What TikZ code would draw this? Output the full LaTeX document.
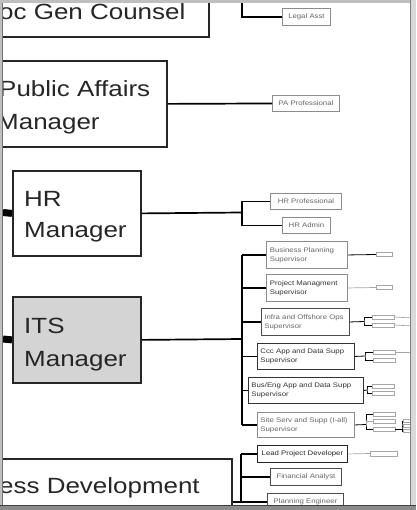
\documentclass[tikz,border=0pt]{standalone}
\usepackage{fontspec}
\setmainfont{Liberation Sans}
\newfontfamily\wf[FakeStretch=1.18]{Liberation Sans}
\begin{document}
\begin{tikzpicture}[x=1pt,y=-1pt,
  bigbox/.style={draw=black!85, line width=1.8pt, fill=white, inner sep=0pt, anchor=north west},
  bigtxt/.style={font=\wf\fontsize{22}{32}\selectfont, text=black!85, inner sep=0pt, anchor=base west},
  smallbox/.style={draw=black!45, line width=0.9pt, fill=white, inner sep=0pt, anchor=north west,
     font=\wf\fontsize{6.6}{9.2}\selectfont, text=black!60},
  conn/.style={line width=1.7pt, black},
  thinc/.style={line width=0.8pt, black},
  faint/.style={line width=0.7pt, black!35},
  tiny/.style={draw=black!35, line width=0.5pt, fill=white, minimum width=22pt, minimum height=4pt, inner sep=0pt}]
\useasboundingbox (0,0) rectangle (416,510);
\begin{scope}
\clip (3,3) rectangle (410,505);
% big boxes
\node[bigbox, minimum width=228pt, minimum height=66pt] (gen) at (-20,-30) {};
\node[bigbox, minimum width=186pt, minimum height=86pt] (pa) at (-20,60) {};
\node[bigbox, minimum width=128pt, minimum height=85pt] (hr) at (12,170) {};
\node[bigbox, minimum width=128pt, minimum height=86pt, fill=black!17] (its) at (12,296) {};
\node[bigbox, minimum width=251pt, minimum height=72pt] (bd) at (-20,458) {};
% big texts
\node[bigtxt] (gent) at (-1,20) {oc Gen Counsel};
\node[bigtxt] (pat1) at (-1,97) {Public Affairs};
\node[bigtxt] (pat2) at (-3,130) {Manager};
\node[bigtxt] (hrt1) at (24,207) {HR};
\node[bigtxt] (hrt2) at (24,237) {Manager};
\node[bigtxt] (itst1) at (24,333) {ITS};
\node[bigtxt] (itst2) at (24,366) {Manager};
\node[bigtxt] (bdt) at (-1,493) {ess Development};
% small boxes
\node[smallbox, minimum width=48pt, minimum height=17pt, text width=44pt, align=center] (legal) at (282,8) {Legal Asst};
\node[smallbox, minimum width=67pt, minimum height=16pt, text width=63pt, align=center] (pap) at (272,95) {PA Professional};
\node[smallbox, minimum width=71pt, minimum height=16pt, text width=67pt, align=center] (hrp) at (270,193) {HR Professional};
\node[smallbox, minimum width=48pt, minimum height=16pt, text width=44pt, align=center] (hra) at (282,217) {HR Admin};
\node[smallbox, minimum width=81pt, minimum height=27pt, text width=74pt, align=left] (bps) at (266,241) {Business Planning\\Supervisor};
\node[smallbox, minimum width=81pt, minimum height=27pt, text width=74pt, align=left, text=black!80] (pms) at (266,274) {Project Managment\\Supervisor};
\node[smallbox, minimum width=88pt, minimum height=27pt, text width=82pt, align=left, draw=black!70] (ios) at (261,308) {Infra and Offshore Ops\\Supervisor};
\node[smallbox, minimum width=97pt, minimum height=26pt, text width=91pt, align=left, draw=black!80, text=black!80] (ccc) at (257,343) {Ccc App and Data Supp\\Supervisor};
\node[smallbox, minimum width=115pt, minimum height=26pt, text width=109pt, align=left, draw=black!80, text=black!80] (bea) at (248,377) {Bus/Eng App and Data Supp\\Supervisor};
\node[smallbox, minimum width=97pt, minimum height=25pt, text width=91pt, align=left] (ssv) at (257,412) {Site Serv and Supp (I-all)\\Supervisor};
\node[smallbox, minimum width=90pt, minimum height=17pt, text width=86pt, align=center, draw=black!85, text=black!85] (lpd) at (257,445) {Lead Project Developer};
\node[smallbox, minimum width=71pt, minimum height=17pt, text width=67pt, align=center, draw=black!70] (fa) at (270,468) {Financial Analyst};
\node[smallbox, minimum width=76pt, minimum height=17pt, text width=72pt, align=center, draw=black!70] (pe) at (267,493) {Planning Engineer};
% connectors: gen counsel
\coordinate (gtop) at (242,-5);
\draw[conn] (gtop) |- (legal.west);
% public affairs
\draw[conn] (pa.east) -- (pap.west);
% HR
\coordinate (hrin) at (3,212.5);
\draw[line width=7pt] (hrin) -- (hr.west);
\coordinate (hrbus) at (242,212.5);
\draw[conn] (hr.east) -- (hrbus);
\draw[conn] (hrp.west) -| (hrbus) |- (hra.west);
% ITS
\coordinate (itsin) at (3,339);
\draw[line width=7pt] (itsin) -- (its.west);
\coordinate (itsbus) at (242,339);
\draw[conn] (its.east) -- (itsbus);
\draw[conn] (bps.west -| itsbus) -- (ssv.west -| itsbus);
\foreach \s in {bps,pms,ios,ccc,bea,ssv} \draw[conn] (\s.west -| itsbus) -- (\s.west);
% Business development
\coordinate (bdbus) at (241,501.5);
\draw[conn] (pe.west -| bd.east) -- (pe.west);
\draw[conn] (lpd.west -| bdbus) -- (pe.west -| bdbus);
\foreach \s in {lpd,fa} \draw[conn] (\s.west -| bdbus) -- (\s.west);
% right tiny boxes
\node[tiny, minimum width=16pt] (t1) at (384,254.5) {};
\draw[thinc] (bps.east) -- (t1.west);
\node[tiny, minimum width=16pt] (t2) at (384,287.5) {};
\draw[faint] (pms.east) -- (t2.west);
\coordinate (iosb) at (364,321.5);
\node[tiny] (t3) at (383,317) {};
\node[tiny] (t4) at (383,325) {};
\draw[thinc] (ios.east) -- (iosb);
\draw[thinc] (t3.west) -| (iosb) |- (t4.west);
\coordinate (e3) at (412,318);
\coordinate (e4) at (412,326);
\draw[faint] (t3.east) -- (e3);
\draw[faint] (t4.east) -- (e4);
\coordinate (cccb) at (365,356);
\node[tiny] (t5) at (384,352) {};
\node[tiny] (t6) at (384,360) {};
\draw[thinc] (ccc.east) -- (cccb);
\draw[thinc] (t5.west) -| (cccb) |- (t6.west);
\coordinate (e5) at (412,352);
\draw[faint] (t5.east) -- (e5);
\coordinate (beab) at (367,390);
\node[tiny] (t7) at (383,386) {};
\node[tiny] (t8) at (383,393) {};
\draw[thinc] (bea.east) -- (beab);
\draw[thinc] (t7.west) -| (beab) |- (t8.west);
\coordinate (ssvb) at (366,424.5);
\node[tiny] (t9) at (384,414) {};
\node[tiny] (t10) at (384,421.5) {};
\node[tiny] (t11) at (384,429.5) {};
\draw[thinc] (ssv.east) -- (ssvb);
\draw[thinc] (t9.west) -| (ssvb) |- (t11.west);
\draw[faint] (ssvb) |- (t10.west);
\coordinate (ssvb2) at (402,426);
\node[tiny, minimum width=8pt, minimum height=3pt] (t12) at (407,421) {};
\node[tiny, minimum width=8pt, minimum height=3pt] (t13) at (407,426) {};
\node[tiny, minimum width=8pt, minimum height=3pt] (t14) at (407,431) {};
\draw[thinc] (t11.east) -- (t11.east -| ssvb2);
\draw[thinc] (t12.west) -| (ssvb2) |- (t14.west);
\draw[thinc] (ssvb2) -- (t13.west);
\node[tiny, minimum width=27pt, minimum height=5pt] (t15) at (383.5,453.5) {};
\draw[faint] (lpd.east) -- (t15.west);
\end{scope}
% frame
\fill[black!25] (0,0) rectangle (3,510);
\draw[black!55, line width=1pt] (2.5,0) -- (2.5,505);
\fill[black!25] (0,0) rectangle (416,3);
\fill[black!15] (410,0) rectangle (416,510);
\draw[black!50, line width=1pt] (410.5,0) -- (410.5,505);
\fill[black!45] (0,505) rectangle (416,510);
\draw[black!75, line width=1.2pt] (0,505.6) -- (416,505.6);
\end{tikzpicture}
\end{document}
